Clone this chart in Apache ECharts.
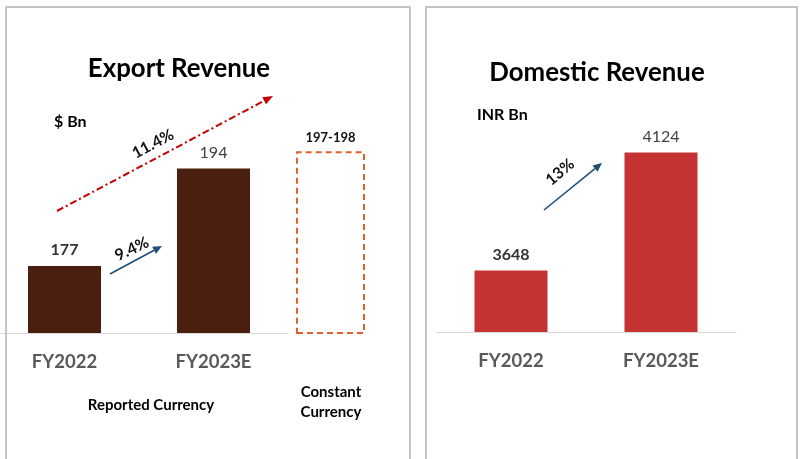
<!DOCTYPE html>
<html>
<head>
<meta charset="utf-8">
<script src="https://cdn.jsdelivr.net/npm/echarts@6/dist/echarts.min.js"></script>
<style>html,body{margin:0;padding:0;background:#fff}#c{width:800px;height:459px}</style>
</head>
<body>
<div id="c"></div>
<script>
// ---- data ----
const exportCategories = ['FY2022', 'FY2023E'];
const exportValues = [177, 194];
const constantCurrencyValue = [197];
const constantCurrencyLabel = '197-198';
const domesticCategories = ['FY2022', 'FY2023E'];
const domesticValues = [3648, 4124];
const exportGrowthReported = '9.4%';
const exportGrowthConstant = '11.4%';
const domesticGrowth = '13%';

const FONT = 'Lato, "Open Sans", sans-serif';
const chart = echarts.init(document.getElementById('c'), null, {renderer: 'canvas'});

function arrow(x1, y1, x2, y2, color, width, dash, headLen, headW) {
  const ang = Math.atan2(y2 - y1, x2 - x1);
  const bx = x2 - headLen * Math.cos(ang), by = y2 - headLen * Math.sin(ang);
  const px = -Math.sin(ang) * headW / 2, py = Math.cos(ang) * headW / 2;
  return [
    {type: 'line', shape: {x1: x1, y1: y1, x2: bx, y2: by},
     style: {stroke: color, lineWidth: width, lineDash: dash || null}},
    {type: 'polygon', shape: {points: [[x2, y2], [bx + px, by + py], [bx - px, by - py]]},
     style: {fill: color}}
  ];
}
function rtext(text, cx, cy, deg, size) {
  return {type: 'text', x: cx, y: cy, rotation: deg * Math.PI / 180,
    style: {text: text, fill: '#111', font: 'bold ' + size + 'px ' + FONT, align: 'center', verticalAlign: 'middle'}};
}
function ctext(text, cx, cy, size, extra) {
  return {type: 'text', x: cx, y: cy,
    style: Object.assign({text: text, fill: '#000', font: 'bold ' + size + 'px ' + FONT, align: 'center', verticalAlign: 'middle'}, extra || {})};
}

const labelStrong = {show: true, position: 'top', distance: 8, fontFamily: FONT, fontSize: 16, fontWeight: 'bold', color: '#333'};
const labelSoft = {show: true, position: 'top', distance: 8, fontFamily: FONT, fontSize: 16, fontWeight: 'normal', color: '#404040'};

const option = {
  animation: false,
  backgroundColor: '#fff',
  grid: [
    {left: -10, width: 298, top: 46.5, height: 286.5, outerBoundsMode: 'none', containLabel: false},
    {left: 295, width: 71, top: 46.5, height: 286.5, outerBoundsMode: 'none', containLabel: false},
    {left: 436, width: 300, top: 34.5, height: 297.5, outerBoundsMode: 'none', containLabel: false}
  ],
  xAxis: [
    {type: 'category', gridIndex: 0, data: exportCategories,
     axisLine: {lineStyle: {color: '#d9d9d9', width: 1}}, axisTick: {show: false},
     axisLabel: {margin: 20, fontFamily: FONT, fontSize: 18.5, fontWeight: 'bold', color: '#595959'}},
    {type: 'category', gridIndex: 1, data: [''], show: false},
    {type: 'category', gridIndex: 2, data: domesticCategories,
     axisLine: {lineStyle: {color: '#d9d9d9', width: 1}}, axisTick: {show: false},
     axisLabel: {margin: 20, fontFamily: FONT, fontSize: 18.5, fontWeight: 'bold', color: '#595959'}}
  ],
  yAxis: [
    {type: 'value', gridIndex: 0, min: 165.3, max: 215.3, show: false, splitLine: {show: false}},
    {type: 'value', gridIndex: 1, min: 165.3, max: 215.3, show: false, splitLine: {show: false}},
    {type: 'value', gridIndex: 2, min: 3400, max: 4600, show: false, splitLine: {show: false}}
  ],
  series: [
    {type: 'bar', xAxisIndex: 0, yAxisIndex: 0, barWidth: 73,
     itemStyle: {color: '#4a1f0f'},
     data: exportValues.map((v, i) => ({value: v, label: i === 0 ? labelStrong : labelSoft}))},
    {type: 'bar', xAxisIndex: 1, yAxisIndex: 1, barWidth: 69,
     itemStyle: {color: 'rgba(255,255,255,0)', borderColor: '#e0622a', borderWidth: 2, borderType: [6, 4]},
     label: {show: true, position: 'top', distance: 7, formatter: constantCurrencyLabel,
       fontFamily: FONT, fontSize: 13, fontWeight: 'bold', color: '#111'},
     data: constantCurrencyValue},
    {type: 'bar', xAxisIndex: 2, yAxisIndex: 2, barWidth: 73,
     itemStyle: {color: '#c43331'},
     data: domesticValues.map((v, i) => ({value: v, label: i === 0 ? labelStrong : labelSoft}))}
  ],
  graphic: [
    {type: 'rect', shape: {x: 6, y: 7, width: 404, height: 480}, style: {fill: null, stroke: '#c4c4c4', lineWidth: 2}, z: 10},
    {type: 'rect', shape: {x: 426, y: 7, width: 371, height: 480}, style: {fill: null, stroke: '#c4c4c4', lineWidth: 2}, z: 10},
    ctext('Export Revenue', 179, 69, 25.8),
    ctext('Domestic Revenue', 597, 73, 25.8),
    {type: 'text', x: 54, y: 122, style: {text: '$ Bn', fill: '#000', font: 'bold 16px ' + FONT, verticalAlign: 'middle'}},
    {type: 'text', x: 477, y: 115, style: {text: 'INR Bn', fill: '#000', font: 'bold 16px ' + FONT, verticalAlign: 'middle'}},
    ctext('Reported Currency', 151, 405, 15),
    ctext('Constant\nCurrency', 331, 402, 15, {lineHeight: 20}),
    ...arrow(57, 211, 273, 96, '#c00000', 2, [7, 3, 2, 3], 10, 8),
    ...arrow(110, 274, 162, 246, '#1f4e79', 1.6, null, 9, 8),
    ...arrow(544, 210, 602, 163, '#1f4e79', 1.6, null, 9, 8),
    rtext(exportGrowthConstant, 153, 144, 28, 16),
    rtext(exportGrowthReported, 132, 249, 25, 16),
    rtext(domesticGrowth, 560, 172, 40, 16)
  ]
};
chart.setOption(option);
</script>
</body>
</html>
